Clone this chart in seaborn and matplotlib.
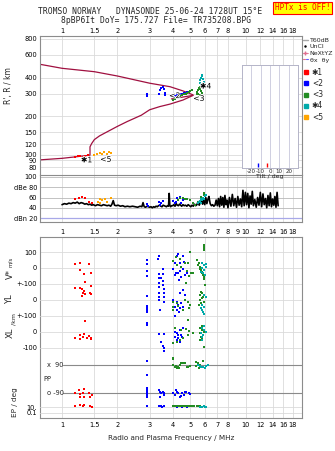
import matplotlib
matplotlib.use("Agg")
import matplotlib.pyplot as plt
import matplotlib.ticker as mticker
import matplotlib.transforms as mtransforms
import matplotlib.patheffects as pe
from matplotlib.lines import Line2D
from matplotlib.legend_handler import HandlerTuple
import seaborn as sns

sns.set_style("white")
plt.rcParams['font.family'] = ['DejaVu Sans']
plt.rcParams['axes.linewidth'] = 0.8

# ------------------------------------------------------------------ data
freq_ticks_top = [1, 1.5, 2, 3, 4, 5, 6, 7, 8, 10, 12, 14, 16, 18]
freq_labels_top = ["1", "1.5", "2", "3", "4", "5", "6", "7", "8", "10", "12", "14", "16", "18"]
freq_ticks_mid = [1, 1.5, 2, 3, 4, 5, 6, 7, 8, 9, 10, 12, 14, 16, 18]
freq_labels_mid = ["1", "1.5", "2", "3", "4", "5", "6", "7", "8", "9", "10", "12", "14", "16", "18"]
range_ticks = [80, 90, 100, 120, 150, 200, 300, 400, 600, 800]
dbe_ticks = [20, 40, 60, 80, 100]
dbe_labels = ["dBn 20", "40", "60", "dBe 80", "100"]
tilt_ticks = [-20, -10, 0, 10, 20]
tilt_values = [-13, -3]
tilt_colors = ["#0000ff", "#ff0000"]

mode_names = ["✱1", "<2", "<3", "✱4", "<5"]
mode_colors = ["#ff0000", "#0000ff", "#228b22", "#00aaaa", "#ffa500"]

# model profile curves (MHz, km)
upper_f = [0.76, 1.0, 1.5, 2.0, 3.0, 3.87, 4.56, 5.16]
upper_r = [507, 472, 444, 411, 361, 339, 314, 293]
lower_f = [0.76, 1.0, 1.18, 1.42, 1.42, 1.45, 1.5, 1.6, 1.72, 2.0, 2.26, 2.7, 3.0, 3.4, 3.87, 4.56, 5.16]
lower_r = [91, 93.5, 96, 99, 115, 122, 131, 140, 148, 166, 181, 203, 224, 237, 248, 267, 290]
wedge_f = [3.94, 5.16]
wedge_r = [272, 290]

# echoes: range panel
m1_rng_f = [1.18, 1.22, 1.26, 1.30, 1.34, 1.38]
m1_rng_r = [95, 97, 97, 96, 98, 99]
m2_rng_f = [2.89, 2.89, 2.90, 3.38, 3.40, 3.47, 3.55, 3.58, 3.63, 3.63,
            4.02, 4.10, 4.15, 4.20, 4.30, 4.40, 4.50, 4.60, 4.70, 4.80]
m2_rng_r = [300, 290, 285, 300, 320, 330, 335, 325, 305, 290,
            282, 288, 280, 292, 290, 296, 298, 302, 305, 306]
m3_rng_f = [4.00, 4.10, 4.20, 4.30, 4.40, 4.50, 4.60, 4.70, 4.80, 4.90, 5.00, 5.10,
            5.40, 5.45, 5.50, 5.55, 5.60, 5.65, 5.70, 5.75, 5.50, 5.60]
m3_rng_r = [268, 272, 277, 282, 286, 290, 295, 300, 305, 310, 314, 318,
            300, 310, 320, 330, 340, 325, 315, 305, 295, 290]
m4_rng_f = [5.60, 5.65, 5.70, 5.75, 5.80, 5.85, 5.90, 5.95, 5.70, 5.80]
m4_rng_r = [360, 380, 400, 420, 410, 390, 370, 355, 350, 345]
m5_rng_f = [1.50, 1.55, 1.60, 1.65, 1.70, 1.75, 1.80, 1.84]
m5_rng_r = [100, 102, 103, 101, 104, 102, 105, 103]

mode_label_f = [1.36, 4.10, 5.55, 6.05, 1.73]
mode_label_r = [91, 289, 275, 343, 92]

# noise (dB) panel
noise_f = [1.00, 1.03, 1.06, 1.09, 1.12, 1.15, 1.18, 1.21, 1.24, 1.27, 1.30, 1.33, 1.36, 1.39,
           1.42, 1.45, 1.48, 1.52, 1.56, 1.60, 1.64, 1.68, 1.72, 1.76, 1.80, 1.84, 1.87, 1.90,
           1.93, 1.97, 2.02, 2.08, 2.14, 2.20, 2.27, 2.34, 2.42, 2.50, 2.58, 2.66, 2.72, 2.76,
           2.80, 2.85, 2.90, 2.95, 3.00, 3.05, 3.10, 3.15, 3.20, 3.25, 3.30, 3.35, 3.40, 3.45,
           3.50, 3.55, 3.60, 3.65, 3.70, 3.75, 3.80, 3.83, 3.86, 3.90, 3.95, 4.00, 4.06, 4.12,
           4.18, 4.24, 4.30, 4.36, 4.42, 4.48, 4.55, 4.62, 4.70, 4.78, 4.86, 4.94, 5.02, 5.10,
           5.18, 5.26, 5.34, 5.42, 5.50, 5.58, 5.66, 5.74, 5.82, 5.90, 5.98, 6.06, 6.14, 6.22,
           6.30, 6.40, 6.50, 6.60, 6.70, 6.80, 6.90, 7.00, 7.10, 7.20, 7.30, 7.40, 7.50, 7.60,
           7.70, 7.80, 7.90, 8.00, 8.15, 8.30, 8.45, 8.60, 8.75, 8.90, 9.05, 9.20, 9.35, 9.50,
           9.65, 9.80, 9.95, 10.10, 10.25, 10.40, 10.55, 10.70, 10.85, 11.00, 11.20, 11.40,
           11.60, 11.80, 12.00, 12.20, 12.40, 12.60, 12.80, 13.00, 13.20, 13.40, 13.60, 13.80,
           14.00, 14.20, 14.40, 14.60, 14.80, 15.00]
noise_db = [46, 48, 47, 49, 48, 50, 49, 51, 48, 50, 49, 47, 48, 46,
            47, 45, 46, 44, 46, 45, 44, 46, 45, 44, 45, 43, 47, 54,
            45, 44, 45, 43, 44, 42, 43, 42, 43, 42, 41, 43, 42, 50,
            42, 41, 43, 42, 41, 42, 40, 42, 41, 43, 42, 44, 45, 43,
            42, 45, 44, 43, 42, 44, 43, 68, 45, 42, 44, 44, 46, 43,
            48, 45, 44, 47, 45, 43, 46, 44, 45, 43, 46, 44, 42, 45,
            43, 47, 44, 46, 52, 45, 50, 58, 47, 54, 46, 60, 48, 56,
            62, 48, 44, 46, 43, 45, 55, 44, 58, 42, 62, 45, 60, 41,
            64, 46, 55, 40, 60, 43, 66, 44, 58, 41, 62, 45, 57, 42,
            74, 44, 70, 46, 68, 40, 63, 47, 72, 44, 56, 41,
            60, 45, 70, 42, 67, 46, 58, 40, 64, 44, 69, 42,
            57, 45, 62, 41, 70, 44]
dbn_level = 20

m1_db_f = [1.18, 1.24, 1.28, 1.33, 1.41, 1.45]
m1_db = [56.5, 60, 61.6, 58.4, 51.8, 49.9]
m2_db_f = [2.89, 2.92, 3.38, 3.47, 3.55, 3.40, 4.02, 4.10, 4.25, 4.40, 4.55, 4.17, 4.45, 4.60]
m2_db = [46.7, 43.4, 51.8, 48.6, 53.8, 45.4, 53.8, 48.6, 58.4, 61.6, 55, 51.8, 49.9, 56.5]
m3_db_f = [4.37, 4.56, 4.76, 4.96, 5.16, 5.27, 5.51, 5.74, 5.91, 5.91, 4.30, 4.65]
m3_db = [58.4, 60, 56.5, 55, 48.6, 45.4, 51.8, 61.6, 68, 65, 55, 57]
m4_db_f = [5.51, 5.63, 5.74, 5.86, 5.99, 6.11, 5.58, 5.70, 5.80, 5.90]
m4_db = [48.6, 53.8, 56.5, 60, 62.9, 65, 51.8, 50, 55, 58]
m5_db_f = [1.575, 1.61, 1.65, 1.71, 1.76, 1.84, 1.60]
m5_db = [51.8, 56.5, 55, 56.5, 51.8, 59.6, 48.6]

# velocity V* (m/s), YL / XL (km), polarisation PP (deg), EP (deg)
m1_vel_f = [1.18, 1.25, 1.41, 1.25, 1.32, 1.43, 1.33]
m1_vel = [25, 33, 25, -12, -35, -29, -88]
m1_yl_f = [1.18, 1.25, 1.28, 1.32, 1.43, 1.30, 1.42, 1.33, 1.28, 1.43]
m1_yl = [77, 73, 67, 58, 90, 42, 46, 37, 27, 35]
m1_xl_f = [1.33, 1.18, 1.25, 1.25, 1.30, 1.32, 1.41, 1.43, 1.43, 1.37]
m1_xl = [69, -35, -19, -42, -29, -15, -25, -35, -46, -35]
m1_pp_f = [1.18, 1.24, 1.26, 1.31, 1.30, 1.41, 1.45, 1.42, 1.25, 1.31]
m1_pp = [-92, -71, -98, -66, -92, -92, -103, -118, -114, -114]
m1_ep_f = [1.18, 1.25, 1.30, 1.32, 1.42, 1.45]
m1_ep = [22, 50, 22, 50, 22, 13]

m2_vel_f = [2.89, 2.89, 2.89, 2.89, 3.34, 3.38, 3.55, 3.38, 3.55, 3.47, 3.38, 3.55, 3.38,
            4.20, 4.29, 4.56, 4.11, 4.37, 4.59, 4.02, 4.17, 4.29, 4.37, 4.56, 4.66, 4.11,
            4.76, 4.46, 4.34]
m2_vel = [50, 25, -17, -50, 54, 75, -8, -37, -37, -65, -65, -79, -96,
          75, 87, 75, 33, 29, 40, -8, -29, -33, -17, -8, -44, -44, -33, -58, -75]
m2_yl_f = [2.89, 2.89, 2.89, 2.89, 2.89, 3.53, 3.38, 3.58, 3.38, 3.58, 3.38, 3.58, 3.38,
           3.58, 3.40, 4.56, 4.37, 4.66, 4.02, 4.20, 4.46, 4.29, 4.11, 4.37, 4.56, 4.20,
           4.34, 4.02, 4.11]
m2_yl = [25, -37, -48, -62, -73, 94, 83, 67, 42, 42, 21, 17, 0, -10, -62,
         62, 42, 31, 0, -10, -21, -31, -42, -52, -46, -62, -73, -62, -100]
m2_xl_f = [2.89, 2.89, 3.38, 3.58, 3.47, 3.55, 3.58, 3.58,
           4.20, 4.37, 4.56, 4.11, 4.29, 4.46, 4.20, 4.37, 4.11, 4.50, 4.29]
m2_xl = [58, 44, -15, -15, -60, -87, -102, -117,
         -8, 13, 23, -29, -40, -19, -50, -60, 2, -29, -19]
m2_pp_f = [2.89, 2.89, 2.89, 2.89, 2.89, 2.89, 2.89, 2.89,
           3.38, 3.55, 3.45, 3.58, 3.40, 3.58, 3.40,
           4.02, 4.10, 4.20, 4.30, 4.40, 4.50, 4.60, 4.75, 4.90, 5.00, 4.15, 4.45, 4.65]
m2_pp = [118, 25, -60, -71, -82, -92, -103, -114,
         -71, -82, -92, -103, -114, -92, -82,
         -92, -103, -82, -92, -114, -92, -103, -82, -92, -98, -71, -108, -87]
m2_ep_f = [2.89, 3.38, 3.45, 3.52, 3.60, 4.05, 4.20, 4.35, 4.50, 4.65, 4.80]
m2_ep = [20, 20, 20, 13, 22, 20, 13, 22, 15, 20, 13]

m3_vel_f = [4.00, 4.17, 4.37, 4.66, 4.86, 4.96, 5.16, 4.76, 5.06, 4.20, 4.46, 4.92, 4.72,
            5.45, 5.55, 5.60, 5.70, 5.75, 5.80, 5.85, 5.90, 5.95, 6.00, 5.50, 5.65,
            5.90, 5.90, 5.90, 5.90]
m3_vel = [46, 67, 54, 33, 29, 102, -29, -17, -33, 19, 8, -50, -96,
          50, 33, 8, -12, -23, -33, -44, -58, -71, -106, 20, -5,
          112, 125, 138, 144]
m3_yl_f = [4.00, 4.20, 4.66, 4.86, 4.96, 4.00, 4.29, 4.56, 4.92, 4.00,
           5.70, 5.80, 5.65, 5.85, 5.75, 5.60, 5.90, 5.70, 5.55]
m3_yl = [-10, -16, 0, -10, -31, -42, -37, -62, -52, -62,
         52, 42, 31, 21, 10, 0, -10, -21, -31]
m3_xl_f = [4.86, 4.11, 4.46, 4.72, 4.92, 5.16, 4.00, 4.20, 4.56, 4.86, 4.37, 4.00,
           5.80, 5.60, 5.75, 5.90, 5.65, 5.85, 5.70, 5.80, 5.60, 5.95]
m3_xl = [75, 23, 13, 17, 8, -8, -71, -60, -40, -19, -50, -164,
         38, 23, 13, 2, -8, -19, -29, -40, -50, -92]
m3_pp_f = [4.00, 4.02, 4.11, 4.20, 4.29, 4.37, 4.46, 4.56, 4.66, 4.76, 4.86, 4.96, 4.34, 4.17,
           5.39, 5.51, 5.63, 5.58, 5.74, 5.86, 5.35]
m3_pp = [126, 90, 79, 68, 75, 90, 100, 104, 100, 79, 75, 84, 68, 84,
         111, 100, 90, 68, 79, 118, 84]
m3_ep_f = [4.00, 4.10, 4.20, 4.30, 4.40, 4.50, 4.60, 4.70, 4.80, 4.90, 5.00, 5.10, 5.20,
           5.45, 5.55, 5.65]
m3_ep = [22, 20, 22, 18, 20, 22, 18, 20, 22, 20, 18, 20, 22, 20, 22, 18]

m4_vel_f = [5.75, 5.90, 6.10, 5.80, 5.95, 5.70, 5.85, 6.00, 6.11]
m4_vel = [29, 19, 8, -2, -12, -23, -33, -44, 25]
m4_yl_f = [5.95, 6.10, 5.80, 5.90, 5.70, 5.75, 5.85, 5.90]
m4_yl = [31, 21, -31, -42, -52, -62, -73, -88]
m4_xl_f = [5.90, 5.80, 5.95, 6.10, 5.70, 5.85, 5.75, 5.80]
m4_xl = [38, 23, 13, 2, -8, -19, -29, -50]
m4_pp_f = [5.51, 5.63, 5.74, 5.86, 5.99, 6.11, 6.24, 5.70]
m4_pp = [90, 84, 79, 75, 68, 84, 90, 79]
m4_ep_f = [5.60, 5.70, 5.80, 5.90, 6.00, 6.10]
m4_ep = [13, 8, 13, 20, 8, 13]

vel_ticks = [100, 0, -100]
vel_labels = ["100", "0", "+-100"]
yl_ticks = [0, -100]
yl_labels = ["0", "+-100"]
xl_ticks = [0, -100]
xl_labels = ["0", "-100"]
pp_lines = [90, -90]
ep_ticks = [10, 0.1]
ep_labels = ["10.", "0.1"]

# ------------------------------------------------------------------ layout
W, H = 335, 451
fig = plt.figure(figsize=(W / 100, H / 100), dpi=100)

def box(l, t, r, b):
    return [l / W, 1 - b / H, (r - l) / W, (b - t) / H]

SPINE = "#8c8c8c"
GRID = "#dadada"
FS = 4.8
MS = 4.5
XMIN, XMAX = 0.759, 20.1

def style_x(ax, ticks, labels, grid=True):
    ax.set_xscale('log')
    ax.set_xlim(XMIN, XMAX)
    ax.set_xticks(ticks)
    ax.set_xticklabels(labels)
    ax.xaxis.set_minor_locator(mticker.NullLocator())
    if grid:
        ax.grid(axis='x', color=GRID, lw=0.6)
    for s in ax.spines.values():
        s.set_color(SPINE)
    ax.tick_params(axis='both', length=0, pad=2, labelsize=FS, colors='black')

ax1 = fig.add_axes(box(40, 36, 301.5, 175))
ax2 = fig.add_axes(box(40, 175, 301.5, 222))
ax3 = fig.add_axes(box(40, 237, 301.5, 418))

# ---------------- top: virtual range
style_x(ax1, freq_ticks_top, freq_labels_top)
ax1.xaxis.tick_top()
ax1.tick_params(axis='x', pad=1.5)
ax1.set_yscale('log')
ax1.set_ylim(69.3, 843.6)
ax1.set_yticks(range_ticks)
ax1.set_yticklabels([str(v) for v in range_ticks])
ax1.yaxis.set_minor_locator(mticker.NullLocator())
ax1.grid(axis='y', color=GRID, lw=0.6)
ax1.spines['bottom'].set_visible(False)
ax1.set_ylabel("R', R / km", fontsize=5.5)
ax1.yaxis.set_label_coords(-0.103, 0.64)

CURVE = "#a01040"
for cf, cr in [(upper_f, upper_r), (lower_f, lower_r), (wedge_f, wedge_r)]:
    sns.lineplot(x=cf, y=cr, ax=ax1, color=CURVE, lw=0.9, sort=False, estimator=None)

rng_sets = [(m1_rng_f, m1_rng_r), (m2_rng_f, m2_rng_r), (m3_rng_f, m3_rng_r),
            (m4_rng_f, m4_rng_r), (m5_rng_f, m5_rng_r)]
for (f, r), c in zip(rng_sets, mode_colors):
    sns.scatterplot(x=f, y=r, ax=ax1, color=c, marker='s', s=MS, linewidth=0,
                    legend=False, zorder=3)
for name, lf, lr in zip(mode_names, mode_label_f, mode_label_r):
    ax1.text(lf, lr, name, fontsize=5.5, color='black', ha='center', va='center', zorder=5,
             path_effects=[pe.withStroke(linewidth=1.2, foreground='white')])

leg1 = ax1.legend(handles=[Line2D([], [], color='#a8a8a8', lw=1),
                           Line2D([], [], color='black', marker='.', ms=1.5, lw=0),
                           Line2D([], [], color='#e07090', marker='+', ms=3, lw=0.6),
                           (Line2D([], [], color='#e07090', lw=0.8),
                            Line2D([], [], color='#6060ff', lw=0.8))],
                  labels=["T60dB", "UnCl", "NeXtYZ", "θx  θy"],
                  handler_map={tuple: HandlerTuple(ndivide=None, pad=0.2)},
                  loc='upper left', bbox_to_anchor=(1.004, 0.99), frameon=False,
                  fontsize=4.5, handlelength=0.9, handletextpad=0.25, borderpad=0,
                  borderaxespad=0, labelspacing=0.2)
ax1.add_artist(leg1)
ax1.legend(handles=[Line2D([], [], color=c, marker='s', ms=2.4, lw=0) for c in mode_colors],
           labels=mode_names, loc='upper left', bbox_to_anchor=(1.01, 0.77), frameon=False,
           fontsize=5.5, handlelength=0.6, handletextpad=0.4, borderpad=0, borderaxespad=0,
           labelspacing=0.28)

# ---------------- noise (dB)
style_x(ax2, freq_ticks_mid, freq_labels_mid)
ax2.tick_params(axis='x', length=2.5, width=0.6, color=SPINE, pad=2.5)
ax2.set_ylim(12.2, 103.9)
ax2.set_yticks(dbe_ticks)
ax2.set_yticklabels(dbe_labels)
ax2.grid(axis='y', color='#b8b8b8', lw=0.6)
sns.lineplot(x=noise_f, y=noise_db, ax=ax2, color='black', lw=1.2, sort=False, estimator=None)
ax2.axhline(dbn_level, color='#a8a8e8', lw=0.9)
db_sets = [(m1_db_f, m1_db), (m2_db_f, m2_db), (m3_db_f, m3_db), (m4_db_f, m4_db), (m5_db_f, m5_db)]
for (f, d), c in zip(db_sets, mode_colors):
    sns.scatterplot(x=f, y=d, ax=ax2, color=c, marker='s', s=MS, linewidth=0, legend=False, zorder=3)

# ---------------- lower: velocity / location / polarisation
U_TOP, U_BOT = 193.75, -937.5
style_x(ax3, freq_ticks_top, freq_labels_top)
ax3.tick_params(axis='x', pad=3)
ax3.set_ylim(U_BOT, U_TOP)
ax3.set_yticks(vel_ticks)
ax3.set_yticklabels(vel_labels)
ax3.grid(axis='y', color=GRID, lw=0.6)
ax3.set_xlabel("Radio and Plasma Frequency / MHz", fontsize=5.2, labelpad=5)

def overlay(ylim, scale='linear'):
    a = fig.add_axes(box(40, 237, 301.5, 418))
    a.patch.set_visible(False)
    a.set_xscale('log')
    a.set_xlim(XMIN, XMAX)
    a.set_xticks([])
    a.xaxis.set_minor_locator(mticker.NullLocator())
    a.set_yscale(scale)
    a.set_ylim(*ylim)
    a.yaxis.set_minor_locator(mticker.NullLocator())
    for s in a.spines.values():
        s.set_visible(False)
    a.tick_params(axis='both', length=0, pad=2, labelsize=FS, colors='black')
    return a

axYL = overlay((U_BOT + 200, U_TOP + 200))
axYL.set_yticks(yl_ticks)
axYL.set_yticklabels(yl_labels)
axYL.grid(axis='y', color=GRID, lw=0.6)
axXL = overlay((U_BOT + 400, U_TOP + 400))
axXL.set_yticks(xl_ticks)
axXL.set_yticklabels(xl_labels)
axXL.grid(axis='y', color=GRID, lw=0.6)
axPP = overlay(((U_BOT + 693.5) / 0.9722, (U_TOP + 693.5) / 0.9722))
axPP.set_yticks([])
axEP = overlay((10 ** ((U_BOT + 887.5) / 18.5), 10 ** ((U_TOP + 887.5) / 18.5)), 'log')
axEP.set_yticks(ep_ticks)
axEP.set_yticklabels(ep_labels)
axEP.yaxis.set_minor_locator(mticker.NullLocator())
axEP.grid(axis='y', color=GRID, lw=0.6)

for v in pp_lines:
    axPP.axhline(v, xmin=0.088, color='#8a8a8a', lw=0.8)
bt = mtransforms.blended_transform_factory(axPP.transAxes, axPP.transData)
axPP.text(0.026, 90, "x  90", transform=bt, fontsize=FS, va='center', ha='left')
axPP.text(0.026, -90, "o -90", transform=bt, fontsize=FS, va='center', ha='left')
axPP.text(0.012, 0, "PP", transform=bt, fontsize=FS, va='center', ha='left')

low_sets = [
    (ax3, [(m1_vel_f, m1_vel), (m2_vel_f, m2_vel), (m3_vel_f, m3_vel), (m4_vel_f, m4_vel)]),
    (axYL, [(m1_yl_f, m1_yl), (m2_yl_f, m2_yl), (m3_yl_f, m3_yl), (m4_yl_f, m4_yl)]),
    (axXL, [(m1_xl_f, m1_xl), (m2_xl_f, m2_xl), (m3_xl_f, m3_xl), (m4_xl_f, m4_xl)]),
    (axPP, [(m1_pp_f, m1_pp), (m2_pp_f, m2_pp), (m3_pp_f, m3_pp), (m4_pp_f, m4_pp)]),
    (axEP, [(m1_ep_f, m1_ep), (m2_ep_f, m2_ep), (m3_ep_f, m3_ep), (m4_ep_f, m4_ep)]),
]
for a, sets in low_sets:
    for (f, v), c in zip(sets, mode_colors):
        sns.scatterplot(x=f, y=v, ax=a, color=c, marker='s', s=MS, linewidth=0,
                        legend=False, zorder=3)

# ---------------- tilt inset
axin = fig.add_axes(box(242, 65, 298, 168))
axin.set_xlim(-30, 30)
axin.set_ylim(0, 1)
axin.set_xticks(tilt_ticks)
axin.set_xticklabels([str(t) for t in tilt_ticks])
axin.set_yticks([])
axin.grid(axis='x', color='#c8c8dc', lw=0.6)
for s in axin.spines.values():
    s.set_color('#b4b4c8')
    s.set_linewidth(0.7)
axin.tick_params(axis='x', length=0, pad=1, labelsize=4.0)
axin.set_xlabel("Tilt / deg", fontsize=4.4, labelpad=0)
axin.vlines(tilt_values, 0.01, 0.05, colors=tilt_colors, lw=1.0)

# ---------------- text
fig.text(0.448, 1 - 12 / H, "TROMSO NORWAY   DYNASONDE 25-06-24 1728UT 15°E",
         family='DejaVu Sans Mono', fontsize=5.8, ha='center', va='center')
fig.text(0.466, 1 - 20.5 / H, "8pBP6It DoY= 175.727 File= TR735208.BPG",
         family='DejaVu Sans Mono', fontsize=5.8, ha='center', va='center')
fig.text(302.5 / W, 1 - 8 / H, "HPTx is OFF!", family='DejaVu Sans Mono', fontsize=5.6,
         color='#ff0000', ha='center', va='center',
         bbox=dict(facecolor='#ffff00', edgecolor='#ff0000', pad=1.0, lw=0.8))

fig.text(10 / W, 1 - 274 / H, "V*", fontsize=6, rotation=90, ha='center', va='center')
fig.text(10.5 / W, 1 - 262 / H, "m/s", fontsize=4, rotation=90, ha='center', va='center')
fig.text(10 / W, 1 - 299 / H, "YL", fontsize=6, rotation=90, ha='center', va='center')
fig.text(14 / W, 1 - 319 / H, "/km", fontsize=4.5, rotation=90, ha='center', va='center')
fig.text(10 / W, 1 - 333 / H, "XL", fontsize=6, rotation=90, ha='center', va='center')
fig.text(14.5 / W, 1 - 402 / H, "EP / deg", fontsize=5.2, rotation=90, ha='center', va='center')

fig.savefig("out.png", dpi=100)
